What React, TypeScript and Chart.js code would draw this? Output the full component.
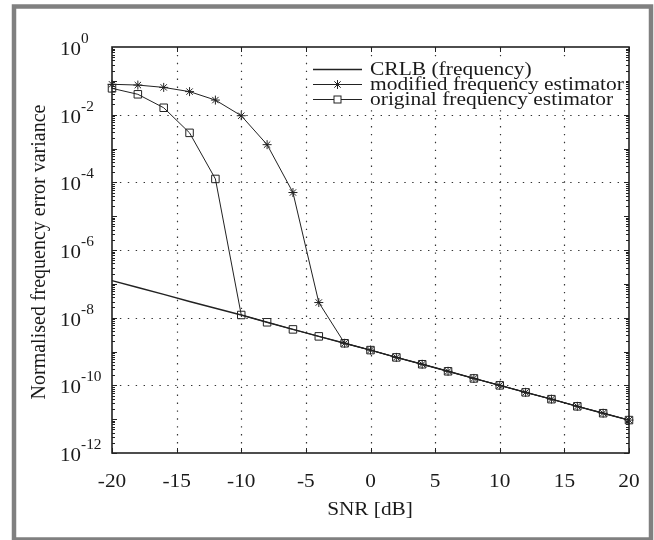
import React, { useEffect, useRef } from "react";
import { Chart, registerables } from "chart.js";

Chart.register(...registerables);

const snr = [-20, -18, -16, -14, -12, -10, -8, -6, -4, -2, 0, 2, 4, 6, 8, 10, 12, 14, 16, 18, 20];
const crlb = [1.25e-7, 7.8e-8, 4.9e-8, 3.0e-8, 1.9e-8, 1.2e-8, 7.3e-9, 4.5e-9, 2.8e-9, 1.75e-9, 1.1e-9, 6.7e-10, 4.2e-10, 2.6e-10, 1.6e-10, 1.0e-10, 6.2e-11, 3.9e-11, 2.4e-11, 1.5e-11, 9.4e-12];
const modified = [0.079, 0.075, 0.064, 0.048, 0.027, 0.0093, 1.3e-3, 5.0e-5, 2.8e-8, 1.75e-9, 1.1e-9, 6.7e-10, 4.2e-10, 2.6e-10, 1.6e-10, 1.0e-10, 6.2e-11, 3.9e-11, 2.4e-11, 1.5e-11, 9.4e-12];
const original = [0.06, 0.04, 0.016, 0.0029, 1.26e-4, 1.2e-8, 7.3e-9, 4.5e-9, 2.8e-9, 1.75e-9, 1.1e-9, 6.7e-10, 4.2e-10, 2.6e-10, 1.6e-10, 1.0e-10, 6.2e-11, 3.9e-11, 2.4e-11, 1.5e-11, 9.4e-12];

const seriesNames = ["CRLB (frequency)", "modified frequency estimator", "original frequency estimator"];
const xTicks = [-20, -15, -10, -5, 0, 5, 10, 15, 20];
const yExponents = [0, -2, -4, -6, -8, -10, -12];
const xTitle = "SNR [dB]";
const yTitle = "Normalised frequency error variance";

const FONT = "'Liberation Serif', 'Times New Roman', serif";
const INK = "#222";
const TEXT = "#1a1a1a";

function text(ctx: any, s: string, x: number, y: number, size: number, align: string, baseline: string, sx: number) {
  ctx.save();
  ctx.translate(x, y);
  ctx.scale(sx, 1);
  ctx.font = `${size}px ${FONT}`;
  ctx.textAlign = align;
  ctx.textBaseline = baseline;
  ctx.fillStyle = TEXT;
  ctx.fillText(s, 0, 0);
  ctx.restore();
}

const decor = {
  id: "decor",
  beforeDraw(chart: any) {
    const ctx = chart.ctx;
    ctx.save();
    ctx.fillStyle = "#fff";
    ctx.fillRect(0, 0, chart.width, chart.height);
    ctx.strokeStyle = "#808080";
    ctx.lineWidth = 4.5;
    ctx.strokeRect(14, 6.5, 637, 533);
    ctx.restore();
  },
  beforeDatasetsDraw(chart: any) {
    const ctx = chart.ctx;
    const a = chart.chartArea;
    const xs = chart.scales.x;
    const ys = chart.scales.y;
    ctx.save();
    ctx.strokeStyle = "#333";
    ctx.lineWidth = 1.2;
    ctx.setLineDash([1.4, 6.5]);
    xTicks.slice(1, -1).forEach((t) => {
      const px = Math.round(xs.getPixelForValue(t)) + 0.5;
      ctx.beginPath();
      ctx.moveTo(px, a.top);
      ctx.lineTo(px, a.bottom);
      ctx.stroke();
    });
    yExponents.slice(1, -1).forEach((e) => {
      const py = Math.round(ys.getPixelForValue(Math.pow(10, e))) + 0.5;
      ctx.beginPath();
      ctx.moveTo(a.left, py);
      ctx.lineTo(a.right, py);
      ctx.stroke();
    });
    ctx.restore();
  },
  afterDatasetsDraw(chart: any) {
    const ctx = chart.ctx;
    const a = chart.chartArea;
    const xs = chart.scales.x;
    const ys = chart.scales.y;
    ctx.save();
    // ticks
    ctx.strokeStyle = INK;
    ctx.lineWidth = 1;
    ctx.beginPath();
    xTicks.forEach((t) => {
      const px = Math.round(xs.getPixelForValue(t)) + 0.5;
      ctx.moveTo(px, a.bottom);
      ctx.lineTo(px, a.bottom - 5);
      ctx.moveTo(px, a.top);
      ctx.lineTo(px, a.top + 5);
    });
    for (let d = -12; d < 0; d++) {
      for (let k = 1; k < 10; k++) {
        const v = k * Math.pow(10, d);
        const py = Math.round(ys.getPixelForValue(v)) + 0.5;
        const len = k === 1 ? 5 : 3;
        ctx.moveTo(a.left, py);
        ctx.lineTo(a.left + len, py);
        ctx.moveTo(a.right, py);
        ctx.lineTo(a.right - len, py);
      }
    }
    ctx.stroke();
    // legend
    ctx.fillStyle = "#fff";
    ctx.fillRect(310, 57, 316, 51);
    const rows = [69.5, 84.5, 99.5];
    rows.forEach((ry, i) => {
      ctx.strokeStyle = INK;
      ctx.lineWidth = i === 0 ? 1.4 : 1.1;
      ctx.beginPath();
      ctx.moveTo(313, ry);
      ctx.lineTo(362, ry);
      ctx.stroke();
      if (i === 1) {
        ctx.lineWidth = 1;
        const r = 4.5;
        ctx.beginPath();
        ctx.moveTo(337.5 - r, ry); ctx.lineTo(337.5 + r, ry);
        ctx.moveTo(337.5, ry - r); ctx.lineTo(337.5, ry + r);
        const q = r * 0.707;
        ctx.moveTo(337.5 - q, ry - q); ctx.lineTo(337.5 + q, ry + q);
        ctx.moveTo(337.5 - q, ry + q); ctx.lineTo(337.5 + q, ry - q);
        ctx.stroke();
      }
      if (i === 2) {
        ctx.lineWidth = 1;
        ctx.fillStyle = "#fff";
        ctx.fillRect(334, ry - 3.5, 7, 7);
        ctx.strokeRect(334, ry - 3.5, 7, 7);
      }
      text(ctx, seriesNames[i], 370, ry + 1, 19, "left", "middle", 1.13);
    });
    // frame
    ctx.strokeStyle = INK;
    ctx.lineWidth = 1.6;
    ctx.strokeRect(a.left, a.top, a.right - a.left, a.bottom - a.top);
    // x tick labels
    xTicks.forEach((t) => {
      text(ctx, String(t), xs.getPixelForValue(t), 482, 19, "center", "middle", 1.12);
    });
    // y tick labels
    yExponents.forEach((e) => {
      const py = ys.getPixelForValue(Math.pow(10, e));
      text(ctx, "10", 81, py + 8, 19, "right", "alphabetic", 1.1);
      text(ctx, String(e), 81, py - 4, 14, "left", "alphabetic", 1.1);
    });
    // titles
    text(ctx, xTitle, 370, 510, 19, "center", "middle", 1.12);
    ctx.save();
    ctx.translate(40, 252);
    ctx.rotate(-Math.PI / 2);
    ctx.font = `20px ${FONT}`;
    ctx.textAlign = "center";
    ctx.textBaseline = "middle";
    ctx.fillStyle = TEXT;
    ctx.fillText(yTitle, 0, 0);
    ctx.restore();
    ctx.restore();
  },
};

export default function App() {
  const ref = useRef<HTMLCanvasElement | null>(null);
  useEffect(() => {
    document.body.style.margin = "0";
    if (!ref.current) return;
    const mk = (vals: number[]) => snr.map((x, i) => ({ x, y: vals[i] }));
    const chart = new Chart(ref.current, {
      type: "scatter",
      data: {
        datasets: [
          {
            label: seriesNames[0],
            data: mk(crlb),
            showLine: true,
            borderColor: INK,
            borderWidth: 1.4,
            pointRadius: 0,
            clip: false,
          },
          {
            label: seriesNames[1],
            data: mk(modified),
            showLine: true,
            borderColor: INK,
            borderWidth: 1,
            pointStyle: "star",
            pointRadius: 4.5,
            pointBorderColor: INK,
            pointBorderWidth: 1,
            pointBackgroundColor: "transparent",
            clip: false,
          },
          {
            label: seriesNames[2],
            data: mk(original),
            showLine: true,
            borderColor: INK,
            borderWidth: 1,
            pointStyle: "rect",
            pointRadius: 5.3,
            pointBorderColor: INK,
            pointBorderWidth: 1,
            pointBackgroundColor: "rgba(255,255,255,0)",
            clip: false,
          },
        ],
      } as any,
      options: {
        animation: false,
        responsive: false,
        devicePixelRatio: 1,
        layout: { padding: { left: 112, right: 25, top: 47, bottom: 87 } },
        plugins: { legend: { display: false }, tooltip: { enabled: false } },
        scales: {
          x: { type: "linear", min: -20, max: 20, display: false },
          y: { type: "logarithmic", min: 1e-12, max: 1, display: false },
        },
      } as any,
      plugins: [decor],
    });
    return () => chart.destroy();
  }, []);
  return (
    <div style={{ width: 654, height: 540 }}>
      <canvas ref={ref} width={654} height={540} style={{ display: "block" }} />
    </div>
  );
}
